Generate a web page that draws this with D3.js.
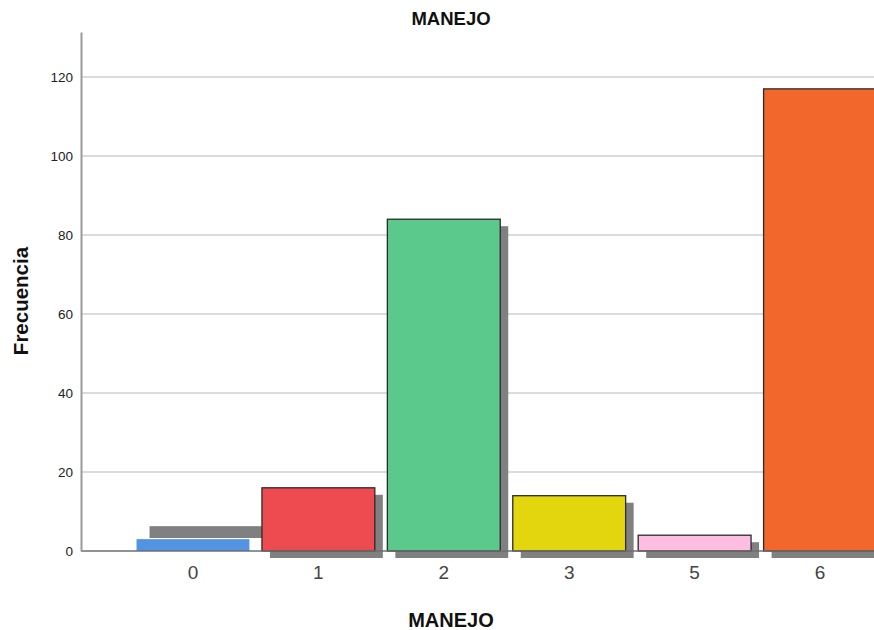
<!DOCTYPE html>
<html>
<head>
<meta charset="utf-8">
<script src="https://cdn.jsdelivr.net/npm/d3@7"></script>
<style>
  html, body { margin: 0; padding: 0; background: #fff; }
  svg { display: block; font-family: "Liberation Sans", Arial, sans-serif; }
</style>
</head>
<body>
<svg id="chart" width="874" height="630"></svg>
<script>
// MANEJO frequency counts
const categories = ["0", "1", "2", "3", "5", "6"];
const frequencies = [3, 16, 84, 14, 4, 117];
const barColors = ["#5294E2", "#ED4B4F", "#5BC98B", "#E3D60F", "#FDBEE2", "#F2682C"];
const yTicks = [0, 20, 40, 60, 80, 100, 120];

const svg = d3.select("#chart");

const x = d3.scaleBand()
  .domain(categories)
  .range([124, 889])
  .paddingInner(0.1)
  .paddingOuter(0.1);

const y = d3.scaleLinear()
  .domain([0, 131.4])
  .range([551, 32]);

const axisLeftX = 81;

// horizontal grid lines
svg.append("g")
  .selectAll("line")
  .data(yTicks.filter(t => t > 0))
  .join("line")
  .attr("x1", axisLeftX)
  .attr("x2", 874)
  .attr("y1", d => y(d))
  .attr("y2", d => y(d))
  .attr("stroke", "#cfcfcf")
  .attr("stroke-width", 1.5);

const rows = categories.map((c, i) => ({ cat: c, value: frequencies[i], color: barColors[i], i }));

// drop shadows (the first bar's shadow sits up and to the right)
const shadowShift = d => d.i === 0 ? [13, -13] : [8, 7];
svg.append("g")
  .selectAll("rect")
  .data(rows)
  .join("rect")
  .attr("x", d => x(d.cat) + shadowShift(d)[0])
  .attr("y", d => y(d.value) + shadowShift(d)[1])
  .attr("width", x.bandwidth())
  .attr("height", d => y(0) - y(d.value))
  .attr("fill", "#808080");

// bars
svg.append("g")
  .selectAll("rect")
  .data(rows)
  .join("rect")
  .attr("x", d => x(d.cat))
  .attr("y", d => y(d.value))
  .attr("width", x.bandwidth())
  .attr("height", d => y(0) - y(d.value))
  .attr("fill", d => d.color)
  .attr("stroke", d => d.i === 0 ? "none" : "#2a2a2a")
  .attr("stroke-width", 1.3);

// x axis baseline
svg.append("line")
  .attr("x1", axisLeftX)
  .attr("x2", 874)
  .attr("y1", y(0))
  .attr("y2", y(0))
  .attr("stroke", "#6e6e6e")
  .attr("stroke-width", 1.5);

// y axis
const yAxis = d3.axisLeft(y)
  .tickValues(yTicks)
  .tickFormat(d3.format("d"))
  .tickSize(0)
  .tickPadding(8);

const gy = svg.append("g")
  .attr("transform", `translate(${axisLeftX},0)`)
  .call(yAxis);
gy.select(".domain")
  .attr("stroke", "#9a9a9a")
  .attr("stroke-width", 2);
gy.selectAll("text")
  .attr("font-size", 13.5)
  .attr("fill", "#222")
  .attr("font-family", "Liberation Sans, Arial, sans-serif");

// x axis labels
const xAxis = d3.axisBottom(x).tickSize(0).tickPadding(15);
const gx = svg.append("g")
  .attr("transform", `translate(0,${y(0)})`)
  .call(xAxis);
gx.select(".domain").remove();
gx.selectAll("text")
  .attr("font-size", 19)
  .attr("fill", "#444")
  .attr("font-family", "Liberation Sans, Arial, sans-serif");

// titles
svg.append("text")
  .attr("x", 451)
  .attr("y", 25)
  .attr("text-anchor", "middle")
  .attr("font-size", 18.5)
  .attr("font-weight", "bold")
  .attr("fill", "#111")
  .text("MANEJO");

svg.append("text")
  .attr("x", 451)
  .attr("y", 627)
  .attr("text-anchor", "middle")
  .attr("font-size", 20)
  .attr("font-weight", "bold")
  .attr("fill", "#111")
  .text("MANEJO");

svg.append("text")
  .attr("transform", "translate(28,301) rotate(-90)")
  .attr("text-anchor", "middle")
  .attr("font-size", 20.5)
  .attr("font-weight", "bold")
  .attr("fill", "#111")
  .text("Frecuencia");
</script>
</body>
</html>
